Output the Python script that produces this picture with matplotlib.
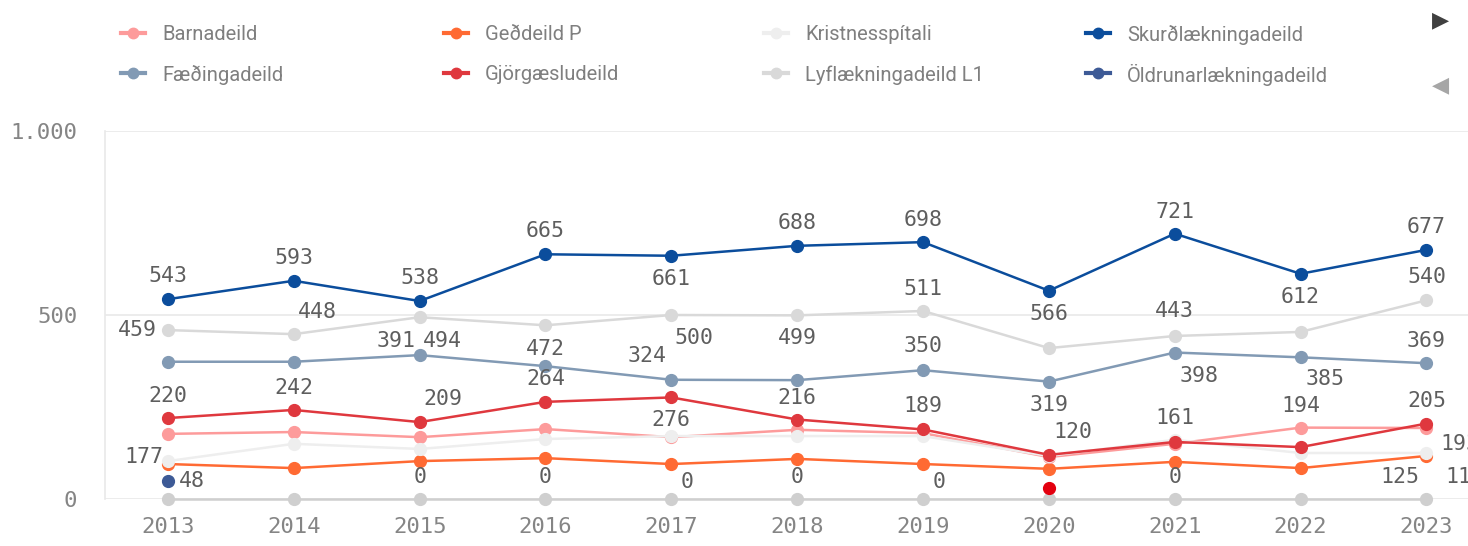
import numpy as np
import matplotlib
matplotlib.use("Agg")
import matplotlib.pyplot as plt
from matplotlib.lines import Line2D

nan = np.nan
years = [2013, 2014, 2015, 2016, 2017, 2018, 2019, 2020, 2021, 2022, 2023]

barnadeild = [177, 182, 168, 190, 168, 188, 179, 114, 150, 194, 193]
faedingadeild = [373, 373, 391, 361, 324, 323, 350, 319, 398, 385, 369]
geddeild = [95, 84, 103, 111, 95, 109, 95, 82, 101, 84, 117]
gjorgaesla = [220, 242, 209, 264, 276, 216, 189, 120, 155, 141, 205]
kristnes = [103, 150, 136, 163, 171, 171, 171, 117, 161, 125, 125]
lyflaekning = [459, 448, 494, 472, 500, 499, 511, 410, 443, 454, 540]
skurd = [543, 593, 538, 665, 661, 688, 698, 566, 721, 612, 677]
oldrun = [48, nan, nan, nan, nan, nan, nan, nan, nan, nan, nan]
# series from the next legend page (not shown in legend)
zero_series = [0, 0, 0, 0, 0, 0, 0, 0, 0, 0, 0]
red_dot = [nan, nan, nan, nan, nan, nan, nan, 30, nan, nan, nan]

series = {
    "Barnadeild": (barnadeild, "#fd9b9b"),
    "Fæðingadeild": (faedingadeild, "#829ab4"),
    "Geðdeild P": (geddeild, "#ff6a33"),
    "Gjörgæsludeild": (gjorgaesla, "#df383e"),
    "Kristnesspítali": (kristnes, "#eeeeee"),
    "Lyflækningadeild L1": (lyflaekning, "#d9d9d9"),
    "Skurðlækningadeild": (skurd, "#0b4d9c"),
    "Öldrunarlækningadeild": (oldrun, "#3d5a96"),
}
hidden = {
    "zero": (zero_series, "#cfcfcf"),
    "red": (red_dot, "#e3000f"),
}
draw_order = ["zero", "red", "Geðdeild P", "Barnadeild", "Kristnesspítali", "Gjörgæsludeild",
              "Fæðingadeild", "Lyflækningadeild L1", "Öldrunarlækningadeild", "Skurðlækningadeild"]

# value labels: (series, year, dx px, dy px)
labels = [
    ("Skurðlækningadeild", 2013, 0, 23), ("Skurðlækningadeild", 2014, 0, 23),
    ("Skurðlækningadeild", 2015, 0, 23), ("Skurðlækningadeild", 2016, 0, 23),
    ("Skurðlækningadeild", 2017, 0, -23), ("Skurðlækningadeild", 2018, 0, 23),
    ("Skurðlækningadeild", 2019, 0, 22), ("Skurðlækningadeild", 2020, 0, -23),
    ("Skurðlækningadeild", 2021, 0, 22), ("Skurðlækningadeild", 2022, 0, -23),
    ("Skurðlækningadeild", 2023, 0, 23),
    ("Lyflækningadeild L1", 2013, -31, 0), ("Lyflækningadeild L1", 2014, 24, 22),
    ("Lyflækningadeild L1", 2015, 23, -24), ("Lyflækningadeild L1", 2016, 0, -24),
    ("Lyflækningadeild L1", 2017, 23, -23), ("Lyflækningadeild L1", 2018, 0, -23),
    ("Lyflækningadeild L1", 2019, 0, 22), ("Lyflækningadeild L1", 2021, 0, 25),
    ("Lyflækningadeild L1", 2023, 0, 23),
    ("Fæðingadeild", 2015, -24, 14), ("Fæðingadeild", 2017, -24, 24),
    ("Fæðingadeild", 2019, 0, 24), ("Fæðingadeild", 2020, 0, -23),
    ("Fæðingadeild", 2021, 24, -23), ("Fæðingadeild", 2022, 24, -22),
    ("Fæðingadeild", 2023, 0, 22),
    ("Gjörgæsludeild", 2013, 0, 22), ("Gjörgæsludeild", 2014, 0, 22),
    ("Gjörgæsludeild", 2015, 23, 23), ("Gjörgæsludeild", 2016, 0, 23),
    ("Gjörgæsludeild", 2017, 0, -23), ("Gjörgæsludeild", 2018, 0, 22),
    ("Gjörgæsludeild", 2019, 0, 23), ("Gjörgæsludeild", 2020, 24, 23),
    ("Gjörgæsludeild", 2023, 0, 23),
    ("Barnadeild", 2013, -24, -23), ("Barnadeild", 2022, 0, 22),
    ("Barnadeild", 2023, 33, -16),
    ("Kristnesspítali", 2021, 0, 22), ("Kristnesspítali", 2023, -27, -24),
    ("Geðdeild P", 2023, 38, -21),
    ("Öldrunarlækningadeild", 2013, 24, 0),
    ("zero", 2015, 0, 22), ("zero", 2016, 0, 22), ("zero", 2017, 16, 17),
    ("zero", 2018, 0, 22), ("zero", 2019, 16, 17), ("zero", 2021, 0, 22),
]

ytick_vals = [0, 500, 1000]
ytick_labels = ["0", "500", "1.000"]

W, H = 1468, 546
fig = plt.figure(figsize=(W / 100, H / 100), dpi=100)
ax = fig.add_axes([105 / W, 1 - 499 / H, 1363 / W, 368 / H])

allser = {**series, **hidden}
for i, name in enumerate(draw_order):
    vals, col = allser[name]
    ax.plot(years, vals, color=col, lw=1.8, marker="o", markersize=8.5,
            zorder=3 + i, clip_on=False)

for name, yr, dx, dy in labels:
    vals, col = allser[name]
    v = vals[years.index(yr)]
    ax.annotate(f"{v:.0f}", (yr, v), xytext=(dx, dy), textcoords="offset pixels",
                ha="center", va="center", fontsize=15.5, color="#5e5e5e",
                family="DejaVu Sans Mono", zorder=20, annotation_clip=False)

ax.set_xlim(2012.5, 2023.33)
ax.set_ylim(0, 1000)
ax.set_xticks(years)
ax.set_xticklabels([str(y) for y in years])
ax.set_yticks(ytick_vals)
ax.set_yticklabels(ytick_labels)
ax.tick_params(length=0, labelsize=16, labelcolor="#858585")
ax.tick_params(axis="x", pad=13)
ax.tick_params(axis="y", pad=20)
for lab in ax.get_xticklabels() + ax.get_yticklabels():
    lab.set_family("DejaVu Sans Mono")
ax.grid(axis="y", color="#e9e9e9", lw=1.2)
ax.set_axisbelow(True)
for s in ["top", "right", "bottom"]:
    ax.spines[s].set_visible(False)
ax.spines["left"].set_color("#e9e9e9")
ax.spines["left"].set_linewidth(1.2)

# legend drawn by hand: four columns of two rows
names = list(series.keys())
col_x = [133, 456, 776, 1098]
row_y = [33, 73]
for k, name in enumerate(names):
    cx = col_x[k // 2]
    cy = 1 - row_y[k % 2] / H
    col = series[name][1]
    fig.add_artist(Line2D([(cx - 12) / W, (cx + 12) / W], [cy, cy], color=col, lw=3))
    fig.add_artist(Line2D([cx / W], [cy], color=col, marker="o", markersize=7.5, lw=0))
    fig.text((cx + 29) / W, cy, name, ha="left", va="center_baseline", fontsize=14.5,
             color="#7f7f7f", family="Roboto")

fig.text(1441 / W, 1 - 20 / H, "▶", ha="center", va="center", fontsize=16,
         color="#404040", family="DejaVu Sans")
fig.text(1441 / W, 1 - 85 / H, "◀", ha="center", va="center", fontsize=16,
         color="#a6a6a6", family="DejaVu Sans")

fig.savefig("out.png", dpi=100, facecolor="white")
